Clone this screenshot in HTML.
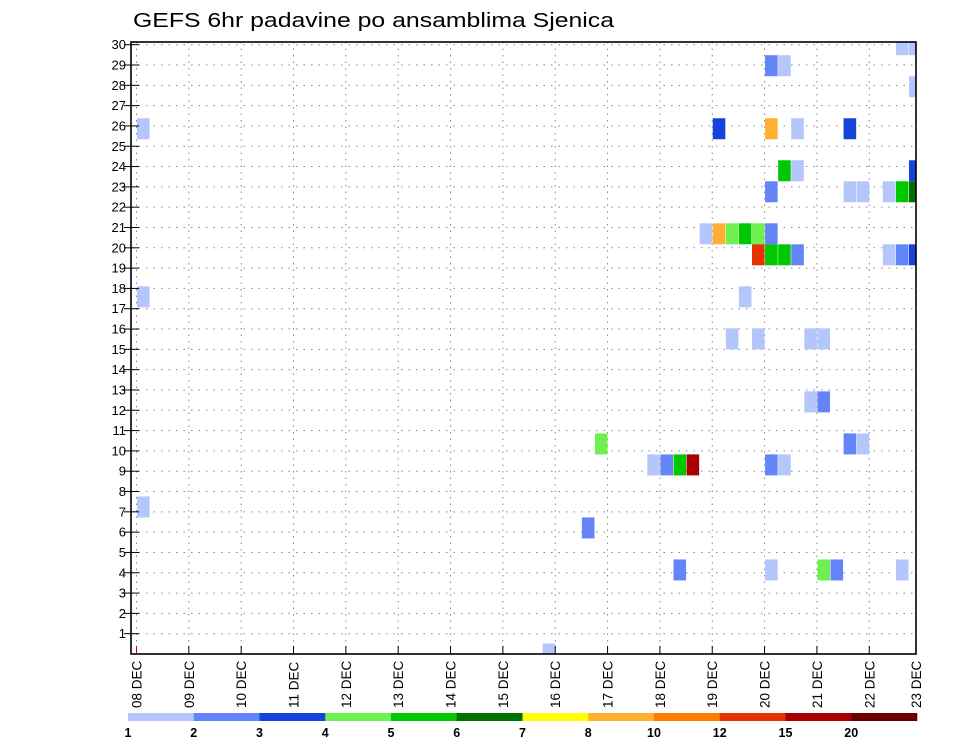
<!DOCTYPE html>
<html><head><meta charset="utf-8"><style>
html,body{margin:0;padding:0;background:#fff;}
svg{display:block;font-family:"Liberation Sans",sans-serif;}
</style></head><body>
<svg id="chart" width="960" height="742" viewBox="0 0 960 742" xmlns="http://www.w3.org/2000/svg">
<text x="133" y="27" font-size="20" textLength="481" lengthAdjust="spacingAndGlyphs" fill="#000">GEFS 6hr padavine po ansamblima Sjenica</text>
<defs><clipPath id="pc"><rect x="131" y="42" width="785" height="612"/></clipPath></defs>
<g id="grid"></g>
<g id="cells" clip-path="url(#pc)"></g>
<g id="axes"></g>
<g id="cbar"></g>
</svg>
<script>
// data
const dayLabels = ["08","09","10","11","12","13","14","15","16","17","18","19","20","21","22","23"];
const yTicks = [1,2,3,4,5,6,7,8,9,10,11,12,13,14,15,16,17,18,19,20,21,22,23,24,25,26,27,28,29,30];
const levels = [1,2,3,4,5,6,7,8,10,12,15,20];
const levelColors = ["#b4c6fc","#6485f8","#1544dc","#6ef050","#00c800","#007000","#ffff00","#ffb030","#ff7d00","#e63200","#a80000","#6e0000"];
// cells: ensemble member index, 6-hr step index from 08 DEC 00Z, precipitation value (mm)
const cellMember = [29,29,28,28,27,25,25,25,25,25,23,23,23,22,22,22,22,22,22,20,20,20,20,20,20,19,19,19,19,19,19,19,17,17,15,15,15,15,12,12,10,10,10,9,9,9,9,9,9,7,6,4,4,4,4,4,0];
const cellStep   = [58,59,48,49,59,0,44,48,50,54,49,50,59,48,54,55,57,58,59,43,44,45,46,47,48,47,48,49,50,57,58,59,0,46,45,47,51,52,51,52,35,54,55,39,40,41,42,48,49,0,34,41,48,52,53,58,31];
const cellValue  = [1.5,1.5,2.5,1.5,1.5,1.5,3.5,9,1.5,3.5,5.5,1.5,3.5,2.5,1.5,1.5,1.5,5.5,6.5,1.5,9,4.5,5.5,4.5,2.5,13,5.5,5.5,2.5,1.5,2.5,3.5,1.5,1.5,1.5,1.5,1.5,1.5,1.5,2.5,4.5,2.5,1.5,1.5,2.5,5.5,17,2.5,1.5,1.5,2.5,2.5,1.5,4.5,2.5,1.5,1.5];

const NS="http://www.w3.org/2000/svg";
const X0=136.5, STEP=13.085, LEFT=131, RIGHT=916, TOP=42, BOT=654, UNIT=20.31;
function xT(k){return X0+k*STEP;}
function yV(v){return BOT-v*UNIT;}
function memberV(m){return m*30/29;}
function colorFor(v){let i=0;for(let j=0;j<levels.length;j++){if(v>=levels[j])i=j;}return levelColors[i];}
function mk(tag,attrs,parent){const e=document.createElementNS(NS,tag);for(const a in attrs)e.setAttribute(a,attrs[a]);parent.appendChild(e);return e;}

const grid=document.getElementById('grid'), cells=document.getElementById('cells'), axes=document.getElementById('axes'), cbar=document.getElementById('cbar');

// grid lines
yTicks.forEach(t=>{
  const l=mk('line',{x1:LEFT,x2:RIGHT,y1:yV(t),y2:yV(t),stroke:"#888","stroke-width":1,"stroke-dasharray":"1.5 6"},grid);
  
  
});
dayLabels.forEach((d,i)=>{
  const x=xT(i*4); if(x>RIGHT) return;
  const l=mk('line',{x1:x,x2:x,y1:TOP,y2:BOT,stroke:"#888","stroke-width":1,"stroke-dasharray":"1.5 5"},grid);
  
  
});

// cells
for(let i=0;i<cellMember.length;i++){
  const vc=memberV(cellMember[i]);
  const r=mk('rect',{x:xT(cellStep[i])+0.5,y:yV(vc)-10.5,width:STEP-0.5,height:21,fill:colorFor(cellValue[i])},cells);
  
  
}

// frame
const fr=mk('rect',{x:LEFT,y:TOP,width:RIGHT-LEFT,height:BOT-TOP,fill:"none",stroke:"#000","stroke-width":1.6},axes);



// y ticks + labels
yTicks.forEach(t=>{
  const y=yV(t);
  const tk=mk('line',{x1:124,x2:139,y1:y,y2:y,stroke:"#000","stroke-width":1},axes);
  
  
  const tx=mk('text',{x:126,y:y+4.5,"font-size":13,"text-anchor":"end",fill:"#000"},axes);
  tx.textContent=t;
  
  
});

// x ticks + labels
dayLabels.forEach((d,i)=>{
  let x=xT(i*4); if(x>RIGHT) x=RIGHT;
  const tk=mk('line',{x1:x,x2:x,y1:BOT-8,y2:BOT,stroke:i==0?"#c00":"#000","stroke-width":1},axes);
  
  
  const tx=mk('text',{x:0,y:0,"font-size":13.5,fill:"#000",transform:`translate(${x+5},708) rotate(-90)`},axes);
  tx.textContent=d+" DEC";
  
  
});

// colorbar
const CB0=128, CBW=(917-128)/levelColors.length;
levelColors.forEach((c,i)=>{
  const r=mk('rect',{x:CB0+i*CBW,y:713,width:CBW+0.3,height:8,fill:c},cbar);
  
  
});
levels.forEach((l,i)=>{
  const t=mk('text',{x:CB0+i*CBW,y:737,"font-size":12.5,"font-weight":"bold","text-anchor":"middle",fill:"#000"},cbar);
  t.textContent=l;
  
  
});
</script>
</body></html>
